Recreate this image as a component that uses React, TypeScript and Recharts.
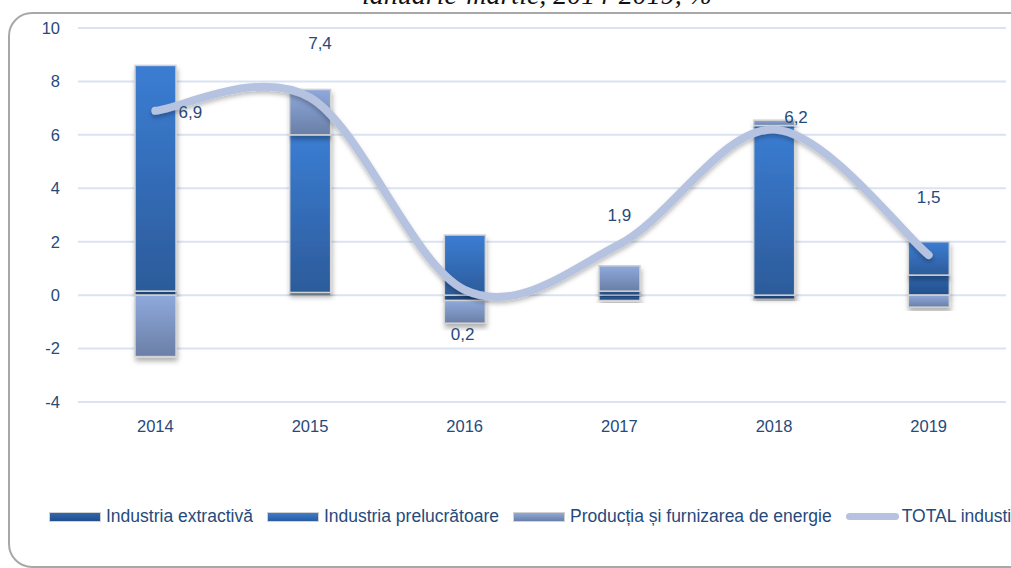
import React from "react";
import { ComposedChart, Bar, Line, XAxis, YAxis, CartesianGrid, LabelList } from "recharts";

const years = ["2014", "2015", "2016", "2017", "2018", "2019"];
const extractiva = [0.15, 0.1, -0.2, -0.2, -0.15, 0.75];
const prelucratoare = [8.45, 5.9, 2.25, 0.15, 6.35, 1.25];
const energie = [-2.3, 1.7, -0.85, 0.95, 0.2, -0.45];
const total = [6.9, 7.4, 0.2, 1.9, 6.2, 1.5];
const yTicks = [-4, -2, 0, 2, 4, 6, 8, 10];

// hand placement of the total labels, like in the source chart
const labelShift = [
  { dx: 35, dy: 2 },
  { dx: 10, dy: -54 },
  { dx: -2, dy: 45 },
  { dx: 0, dy: -29 },
  { dx: 22, dy: -12 },
  { dx: 0, dy: -58 },
];

const data = years.map((year, i) => ({
  year,
  extractiva: extractiva[i],
  prelucratoare: prelucratoare[i],
  energie: energie[i],
  total: total[i],
}));

const FONT = "'Liberation Sans', Arial, sans-serif";
const TEXT = "#264a7c";

// smooth line the way Excel draws it (Catmull-Rom through the points)
function excelSmooth(context: any) {
  let pts: number[][] = [];
  return {
    areaStart() {},
    areaEnd() {},
    lineStart() {
      pts = [];
    },
    point(x: number, y: number) {
      pts.push([+x, +y]);
    },
    lineEnd() {
      if (!pts.length) return;
      context.moveTo(pts[0][0], pts[0][1]);
      for (let i = 0; i < pts.length - 1; i++) {
        const p0 = pts[i - 1] || pts[i];
        const p1 = pts[i];
        const p2 = pts[i + 1];
        const p3 = pts[i + 2] || pts[i + 1];
        context.bezierCurveTo(
          p1[0] + (p2[0] - p0[0]) / 6,
          p1[1] + (p2[1] - p0[1]) / 6,
          p2[0] - (p3[0] - p1[0]) / 6,
          p2[1] - (p3[1] - p1[1]) / 6,
          p2[0],
          p2[1]
        );
      }
    },
  };
}

const barShape = (fillId: string) => (props: any) => {
  let { x, y, width, height } = props;
  if (height < 0) {
    y = y + height;
    height = -height;
  }
  if (!height) return <g />;
  return (
    <rect
      x={x}
      y={y}
      width={width}
      height={height}
      fill={`url(#${fillId})`}
      stroke="#d2d2d2"
      strokeWidth={1.5}
      filter="url(#barShadow)"
    />
  );
};

const TotalLabel = (props: any) => {
  const { x, y, value, index } = props;
  const s = labelShift[index] || { dx: 0, dy: -15 };
  return (
    <text
      x={x + s.dx}
      y={y + s.dy}
      textAnchor="middle"
      dominantBaseline="central"
      fill={TEXT}
      fontSize={17}
      fontFamily={FONT}
    >
      {String(value).replace(".", ",")}
    </text>
  );
};

const legendItems = [
  { name: "Industria extractivă", kind: "bar", fill: "linear-gradient(#2f67b1, #234e8a)" },
  { name: "Industria prelucrătoare", kind: "bar", fill: "linear-gradient(#3b7dd3, #2c5b9a)" },
  { name: "Producția și furnizarea de energie", kind: "bar", fill: "linear-gradient(#8ea9dc, #6a7fa6)" },
  { name: "TOTAL industie", kind: "line", fill: "#b6c3e0" },
];

export default function App() {
  return (
    <div
      style={{
        position: "absolute",
        left: 0,
        top: 0,
        width: 1011,
        height: 568,
        overflow: "hidden",
        background: "#fff",
      }}
    >
      <svg width={1011} height={20} style={{ position: "absolute", left: 0, top: 0 }}>
        <text
          x={712}
          y={4}
          textAnchor="end"
          fontFamily="'Liberation Serif', 'Times New Roman', serif"
          fontStyle="italic"
          fontSize={28}
          fill="#111"
        >
          ianuarie-martie, 2014-2019, %
        </text>
      </svg>
      <div
        style={{
          position: "absolute",
          left: 8,
          top: 12,
          width: 1040,
          height: 552,
          border: "2px solid #a8a8a8",
          borderRadius: 24,
        }}
      />
      <div style={{ position: "absolute", left: 0, top: 0 }}>
        <ComposedChart
          width={1011}
          height={568}
          data={data}
          stackOffset="sign"
          barSize={41}
          margin={{ top: 28, right: 5, bottom: 136, left: 0 }}
        >
          <defs>
            <linearGradient id="gExt" x1="0" y1="0" x2="0" y2="1">
              <stop offset="0%" stopColor="#2f67b1" />
              <stop offset="100%" stopColor="#234e8a" />
            </linearGradient>
            <linearGradient id="gPrel" x1="0" y1="0" x2="0" y2="1">
              <stop offset="0%" stopColor="#3b7dd3" />
              <stop offset="100%" stopColor="#2c5b9a" />
            </linearGradient>
            <linearGradient id="gEn" x1="0" y1="0" x2="0" y2="1">
              <stop offset="0%" stopColor="#8ea9dc" />
              <stop offset="100%" stopColor="#6a7fa6" />
            </linearGradient>
            <filter id="barShadow" x="-30%" y="-30%" width="160%" height="160%">
              <feDropShadow dx="1" dy="4" stdDeviation="2.5" floodColor="#000" floodOpacity="0.3" />
            </filter>
            <filter id="lineShadow" x="-10%" y="-10%" width="120%" height="120%">
              <feDropShadow dx="0" dy="3" stdDeviation="2" floodColor="#000" floodOpacity="0.25" />
            </filter>
          </defs>
          <CartesianGrid horizontal vertical={false} stroke="#dae3f3" strokeWidth={2} />
          <XAxis
            dataKey="year"
            axisLine={false}
            tickLine={false}
            tickMargin={12}
            height={30}
            tick={{ fill: TEXT, fontSize: 16.5, fontFamily: FONT }}
          />
          <YAxis
            domain={[-4, 10]}
            ticks={yTicks}
            width={78}
            axisLine={false}
            tickLine={false}
            tickMargin={12}
            interval={0}
            tick={{ fill: TEXT, fontSize: 16.5, fontFamily: FONT }}
          />
          <Bar dataKey="extractiva" stackId="a" shape={barShape("gExt")} isAnimationActive={false} />
          <Bar dataKey="prelucratoare" stackId="a" shape={barShape("gPrel")} isAnimationActive={false} />
          <Bar dataKey="energie" stackId="a" shape={barShape("gEn")} isAnimationActive={false} />
          <Line
            dataKey="total"
            type={excelSmooth as any}
            stroke="#b6c3e0"
            strokeWidth={8}
            strokeLinecap="round"
            dot={false}
            activeDot={false}
            filter="url(#lineShadow)"
            isAnimationActive={false}
          >
            <LabelList dataKey="total" content={TotalLabel} />
          </Line>
        </ComposedChart>
      </div>
      <div
        style={{
          position: "absolute",
          left: 49,
          top: 506,
          display: "flex",
          alignItems: "center",
          whiteSpace: "nowrap",
          fontFamily: FONT,
          fontSize: 17.5,
          color: TEXT,
        }}
      >
        {legendItems.map((it) => (
          <div key={it.name} style={{ display: "flex", alignItems: "center", marginRight: 14 }}>
            {it.kind === "bar" ? (
              <span
                style={{
                  display: "inline-block",
                  width: 50,
                  height: 8,
                  background: it.fill,
                  border: "1.5px solid #d2d2d2",
                  marginRight: 5,
                }}
              />
            ) : (
              <span
                style={{
                  display: "inline-block",
                  width: 53,
                  height: 7,
                  borderRadius: 4,
                  background: it.fill,
                  marginRight: 3,
                }}
              />
            )}
            <span>{it.name}</span>
          </div>
        ))}
      </div>
    </div>
  );
}
